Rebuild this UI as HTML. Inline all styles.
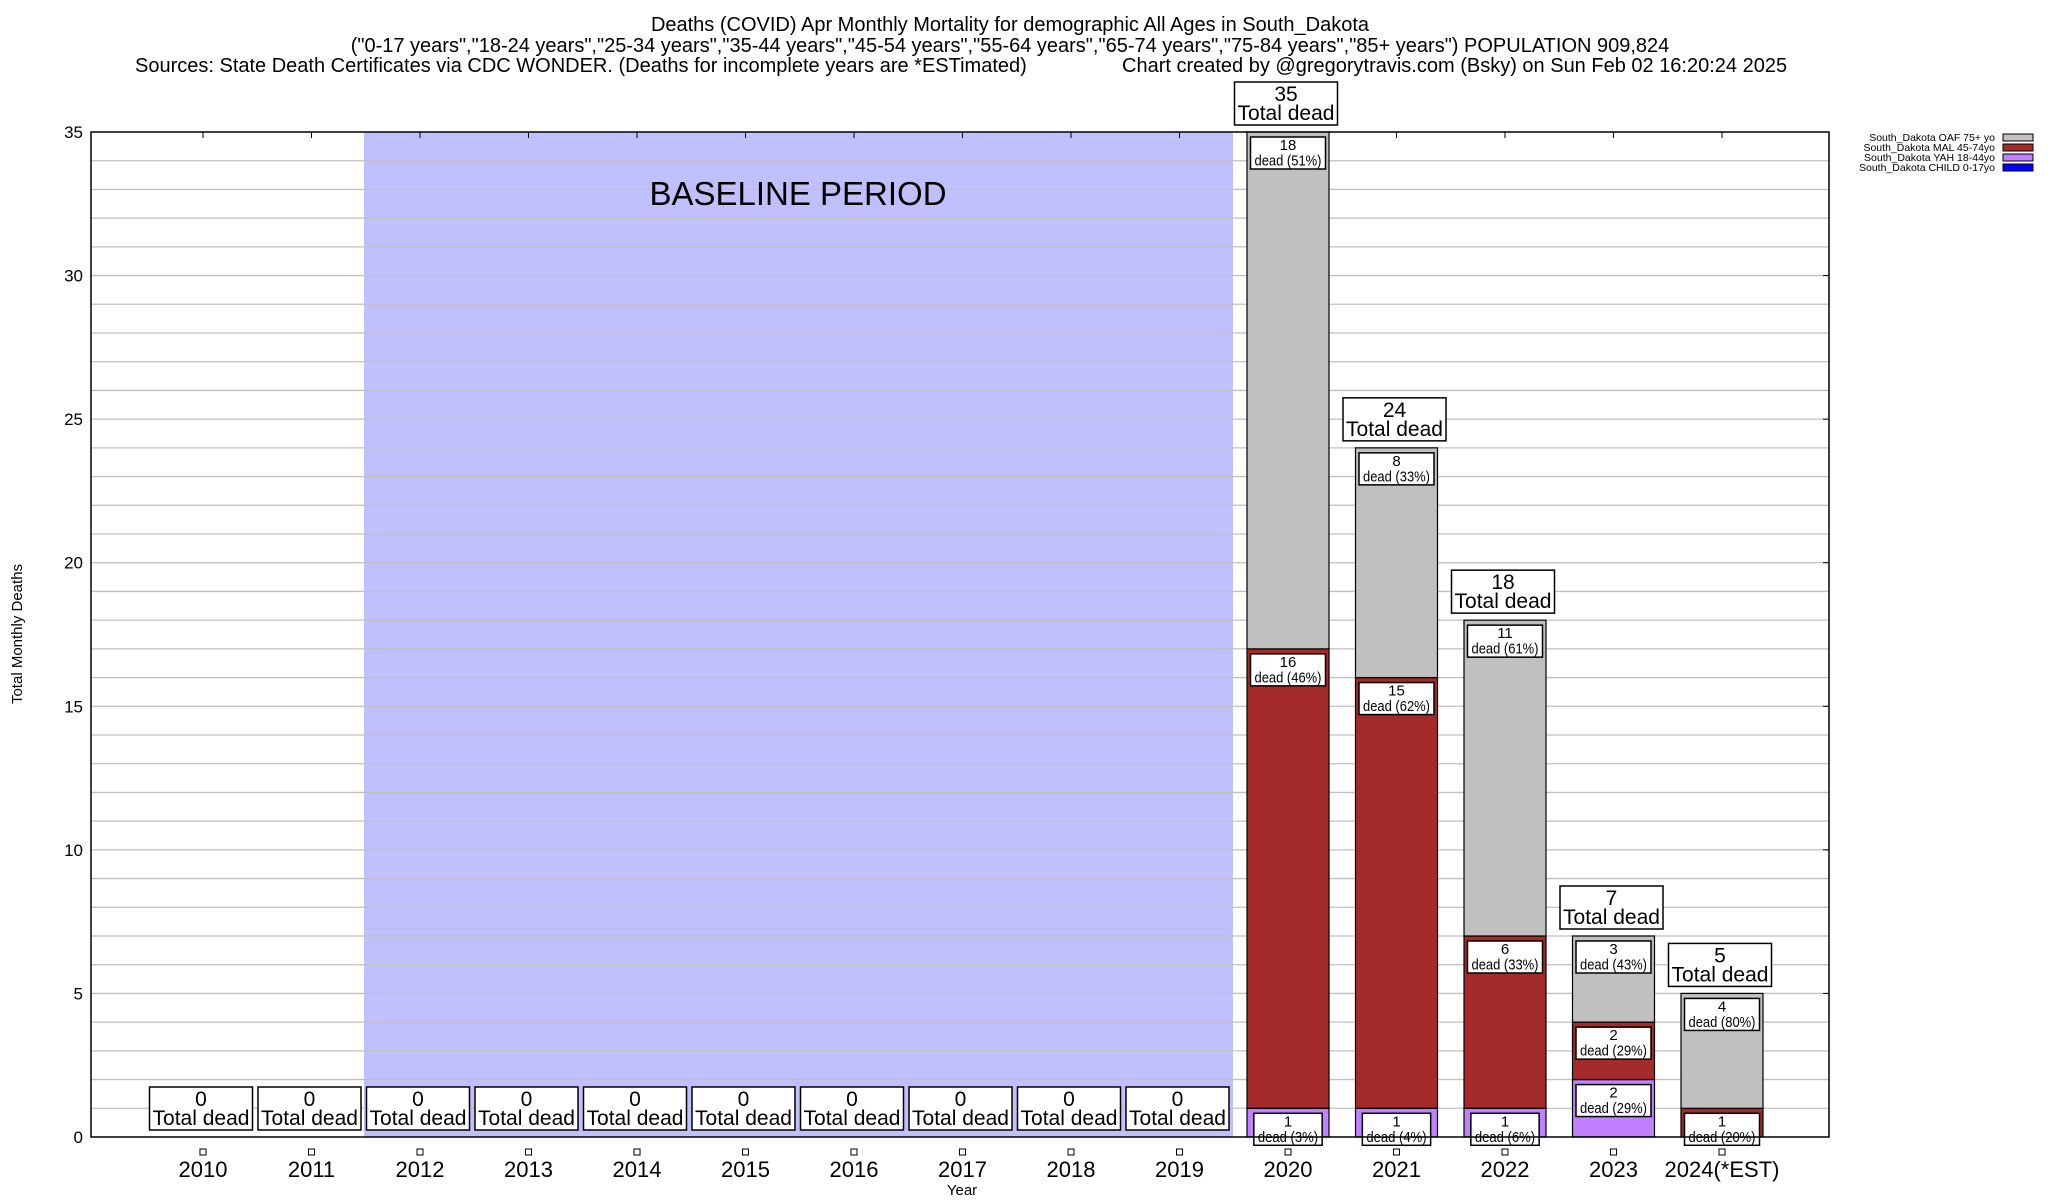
<!DOCTYPE html>
<html><head><meta charset="utf-8"><style>
html,body{margin:0;padding:0;background:#fff;}
svg{display:block;font-family:"Liberation Sans",sans-serif;}
</style></head><body>
<svg id="chart" width="2048" height="1200" viewBox="0 0 2048 1200">
<text x="1010" y="31" font-size="20" text-anchor="middle">Deaths (COVID) Apr Monthly Mortality for demographic All Ages in South_Dakota</text>
<text x="1010" y="52" font-size="20" text-anchor="middle">("0-17 years","18-24 years","25-34 years","35-44 years","45-54 years","55-64 years","65-74 years","75-84 years","85+ years") POPULATION 909,824</text>
<text x="135" y="72" font-size="20">Sources: State Death Certificates via CDC WONDER. (Deaths for incomplete years are *ESTimated)</text>
<text x="1122" y="72" font-size="20">Chart created by @gregorytravis.com (Bsky) on Sun Feb 02 16:20:24 2025</text>
<g id="grid"></g><g id="bars"></g><g id="labels"></g>
<text transform="translate(22,634) rotate(-90)" font-size="15" text-anchor="middle">Total Monthly Deaths</text>
<text x="962" y="1195" font-size="15" text-anchor="middle">Year</text>
<g>
<text x="1995" y="141" font-size="10.5" text-anchor="end">South_Dakota OAF 75+ yo</text>
<rect x="2003" y="134" width="30" height="7" fill="#c0c0c0" stroke="#000"/>
<text x="1995" y="151" font-size="10.5" text-anchor="end">South_Dakota MAL 45-74yo</text>
<rect x="2003" y="144" width="30" height="7" fill="#a52a2a" stroke="#000"/>
<text x="1995" y="161" font-size="10.5" text-anchor="end">South_Dakota YAH 18-44yo</text>
<rect x="2003" y="154" width="30" height="7" fill="#c080ff" stroke="#000"/>
<text x="1995" y="171" font-size="10.5" text-anchor="end">South_Dakota CHILD 0-17yo</text>
<rect x="2003" y="164" width="30" height="7" fill="#0000ff" stroke="#000"/>
</g>
</svg>
<script>
const years = ["2010","2011","2012","2013","2014","2015","2016","2017","2018","2019","2020","2021","2022","2023","2024(*EST)"];
const child = [0,0,0,0,0,0,0,0,0,0,0,0,0,0,0];
const yah = [0,0,0,0,0,0,0,0,0,0,1,1,1,2,0];
const mal = [0,0,0,0,0,0,0,0,0,0,16,15,6,2,1];
const oaf = [0,0,0,0,0,0,0,0,0,0,18,8,11,3,4];
const yTicks = [0,5,10,15,20,25,30,35];

const NS="http://www.w3.org/2000/svg";
const L=91,R=1829,T=132,B=1137,YMAX=35;
const y=v=>B-(B-T)*v/YMAX;
const x=i=>203+i*108.5;
const BW=82;
function mk(parent,tag,attrs){const e=document.createElementNS(NS,tag);for(const k in attrs)e.setAttribute(k,attrs[k]);parent.appendChild(e);return e;}
function rhe(v){const f=Math.floor(v),d=v-f;if(Math.abs(d-0.5)<1e-9)return f%2===0?f:f+1;return Math.round(v);}
const grid=document.getElementById('grid'),bars=document.getElementById('bars'),labels=document.getElementById('labels');

let plot=mk(grid,'rect',{x:L,y:T,width:R-L,height:B-T,fill:'#fff'});


let base=mk(grid,'rect',{x:364,y:T,width:1233-364,height:B-T,fill:'#c0c0ff'});


for(let v=1;v<YMAX;v++){
  let g=mk(grid,'line',{x1:L,x2:R,y1:y(v),y2:y(v),stroke:'#c0c0c0','stroke-width':1.3});
  
  
}
let bt=mk(grid,'text',{x:798,y:205,'font-size':33,'text-anchor':'middle'});
bt.textContent='BASELINE PERIOD';


yTicks.forEach(v=>{
  let t=mk(grid,'text',{x:83,y:y(v)+6,'font-size':17,'text-anchor':'end'});
  t.textContent=v;
  
  
  mk(grid,'line',{x1:R-6,x2:R,y1:y(v),y2:y(v),stroke:'#000'});
});

const series=[[child,'#0000ff','child'],[yah,'#c080ff','yah'],[mal,'#a52a2a','mal'],[oaf,'#c0c0c0','oaf']];
function box(cx,top,w,h,lines,fs,first,lh,maxw,name){
  let r=mk(labels,'rect',{x:cx-w/2,y:top,width:w,height:h,fill:'#fff',stroke:'#000','stroke-width':1.5});
  
  
  lines.forEach((s,k)=>{
    let t=mk(labels,'text',{x:cx,y:top+first+k*lh,'font-size':fs,'text-anchor':'middle'});
    if(k===1&&maxw){t.setAttribute('textLength',maxw);t.setAttribute('lengthAdjust','spacingAndGlyphs');}
    t.textContent=s;
    
    
  });
}
years.forEach((yr,i)=>{
  const cx=x(i);
  let cum=0;
  const total=child[i]+yah[i]+mal[i]+oaf[i];
  series.forEach(([arr,col,nm])=>{
    const v=arr[i];
    if(v>0){
      let r=mk(bars,'rect',{x:cx-BW/2,y:y(cum+v),width:BW,height:y(cum)-y(cum+v),fill:col,stroke:'#000','stroke-width':1.2});
      
      
      const pct=rhe(100*v/total);
      const s2='dead ('+pct+'%)';
      const tw=s2.length*6.7;
      box(cx,y(cum+v)+5,tw+8,32,[String(v),s2],15,13,15.5,tw,'segment-label');
    }
    cum+=v;
  });
  box(cx-2,y(total)-50,103,43,[String(total),'Total dead'],21,19,19,97,'total-label');
  mk(grid,'line',{x1:cx,x2:cx,y1:T,y2:T+6,stroke:'#000'});
  let tk=mk(labels,'rect',{x:cx-3,y:1149,width:6,height:6,fill:'#fff',stroke:'#000'});
  
  
  let t=mk(labels,'text',{x:cx,y:1177,'font-size':22,'text-anchor':'middle'});
  t.textContent=yr;
  
  
});
let fr=mk(labels,'rect',{x:L,y:T,width:R-L,height:B-T,fill:'none',stroke:'#000','stroke-width':1.5});


</script>
</body></html>
